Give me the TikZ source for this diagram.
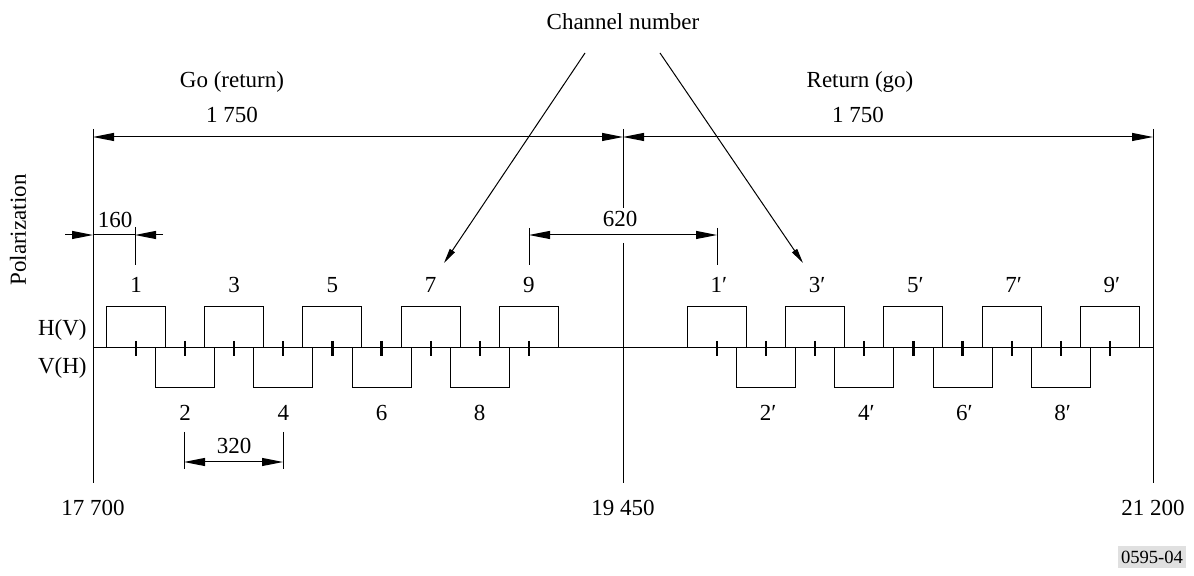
\documentclass[tikz,border=0pt]{standalone}
\usepackage{fontspec}
\setmainfont{Liberation Serif}
\usetikzlibrary{arrows.meta}
\begin{document}
\begin{tikzpicture}[x=0.5pt,y=-0.5pt,
  font=\fontsize{11.5}{13}\selectfont,
  ln/.style={line width=0.5pt},
  dimarrow/.style={line width=0.5pt, {Triangle[length=10.5pt,width=4pt]}-{Triangle[length=10.5pt,width=4pt]}},
  onearrow/.style={line width=0.5pt, -{Triangle[length=10.5pt,width=4pt]}},
  ptr/.style={line width=0.5pt, -{Triangle[length=7.5pt,width=3pt]}},
  chbox/.style={draw, line width=0.5pt, minimum width=29.5pt, inner sep=0pt},
  upbox/.style={chbox, minimum height=20.5pt},
  lowbox/.style={chbox, minimum height=20pt},
  tickmark/.style={line width=1.1pt},
  lbl/.style={inner sep=0pt}]
\useasboundingbox (0,0) rectangle (1194,576);

% main vertical lines
\coordinate (LT) at (93,129);   \coordinate (LB) at (93,483);
\coordinate (CT) at (623,129);  \coordinate (CM1) at (623,208);
\coordinate (CM2) at (623,243); \coordinate (CB) at (623,483);
\coordinate (RT) at (1153,129); \coordinate (RB) at (1153,483);
\draw[ln] (LT) -- (LB);
\draw[ln] (CT) -- (CM1);
\draw[ln] (CM2) -- (CB);
\draw[ln] (RT) -- (RB);

% baseline
\coordinate (BL) at (93,348); \coordinate (BR) at (1153,348);
\draw[ln] (BL) -- (BR);

% top dimension lines
\coordinate (DL) at (93,137); \coordinate (DC) at (623,137); \coordinate (DR) at (1153,137);
\draw[dimarrow] (DL) -- (DC);
\draw[dimarrow] (DC) -- (DR);
\node[lbl] (d1) at (232,115) {1 750};
\node[lbl] (d2) at (858,115) {1 750};
\node[lbl] (go) at (232,82) {Go (return)};
\node[lbl] (ret) at (860,82) {Return (go)};

% channel number pointers
\node[lbl] (chn) at (623,22) {Channel number};
\coordinate (pA) at (585,53); \coordinate (pAt) at (444,263);
\coordinate (pB) at (660,53); \coordinate (pBt) at (803,263);
\draw[ptr] (pA) -- (pAt);
\draw[ptr] (pB) -- (pBt);

% polarization labels
\node[lbl, rotate=90] (pol) at (18,230) {Polarization};
\node[lbl, anchor=east] (hv) at (87,330) {H(V)};
\node[lbl, anchor=east] (vh) at (87,368) {V(H)};

% channels (go)
\foreach \k in {1,...,9}{
  \pgfmathsetmacro{\xx}{136+49.1*(\k-1)}
  \ifodd\k
    \node[upbox] (b\k) at (\xx,327.5) {};
    \node[lbl] (t\k) at (\xx,285) {\k};
  \else
    \node[lowbox] (b\k) at (\xx,368) {};
    \node[lbl] (t\k) at (\xx,413) {\k};
  \fi
  \coordinate (ka\k) at (\xx,341); \coordinate (kb\k) at (\xx,356);
  \draw[tickmark] (ka\k) -- (kb\k);
}
% channels (return)
\foreach \k in {1,...,9}{
  \pgfmathsetmacro{\xx}{717+49.1*(\k-1)}
  \ifodd\k
    \node[upbox] (p\k) at (\xx,327.5) {};
    \node[lbl] (tp\k) at (\xx+2,285) {\k′};
  \else
    \node[lowbox] (p\k) at (\xx,368) {};
    \node[lbl] (tp\k) at (\xx+2,413) {\k′};
  \fi
  \coordinate (pka\k) at (\xx,341); \coordinate (pkb\k) at (\xx,356);
  \draw[tickmark] (pka\k) -- (pkb\k);
}

% 160 dimension
\coordinate (a160a) at (65,235); \coordinate (a160b) at (93,235);
\coordinate (a160c) at (163,235); \coordinate (a160d) at (135,235);
\coordinate (e160a) at (135,227); \coordinate (e160b) at (135,265);
\draw[onearrow] (a160a) -- (a160b);
\draw[ln] (a160b) -- (a160d);
\draw[onearrow] (a160c) -- (a160d);
\draw[ln] (e160a) -- (e160b);
\node[lbl] (l160) at (115,220) {160};

% 620 dimension
\coordinate (e620a) at (529,228); \coordinate (e620b) at (529,265);
\coordinate (e620c) at (717,228); \coordinate (e620d) at (717,265);
\coordinate (d620a) at (529,235); \coordinate (d620b) at (717,235);
\draw[ln] (e620a) -- (e620b);
\draw[ln] (e620c) -- (e620d);
\draw[dimarrow] (d620a) -- (d620b);
\node[lbl] (l620) at (620,219) {620};

% 320 dimension
\coordinate (e320a) at (184,432); \coordinate (e320b) at (184,469);
\coordinate (e320c) at (283,432); \coordinate (e320d) at (283,469);
\coordinate (d320a) at (184,462); \coordinate (d320b) at (283,462);
\draw[ln] (e320a) -- (e320b);
\draw[ln] (e320c) -- (e320d);
\draw[dimarrow] (d320a) -- (d320b);
\node[lbl] (l320) at (234,446) {320};

% frequency labels
\node[lbl] (f1) at (93,508) {17 700};
\node[lbl] (f2) at (623,508) {19 450};
\node[lbl] (f3) at (1153,508) {21 200};

% figure code
\node[fill=black!12, inner xsep=1.5pt, inner ysep=2.5pt, font=\fontsize{9.3}{11}\selectfont] (code) at (1152,557) {0595-04};
\end{tikzpicture}
\end{document}
